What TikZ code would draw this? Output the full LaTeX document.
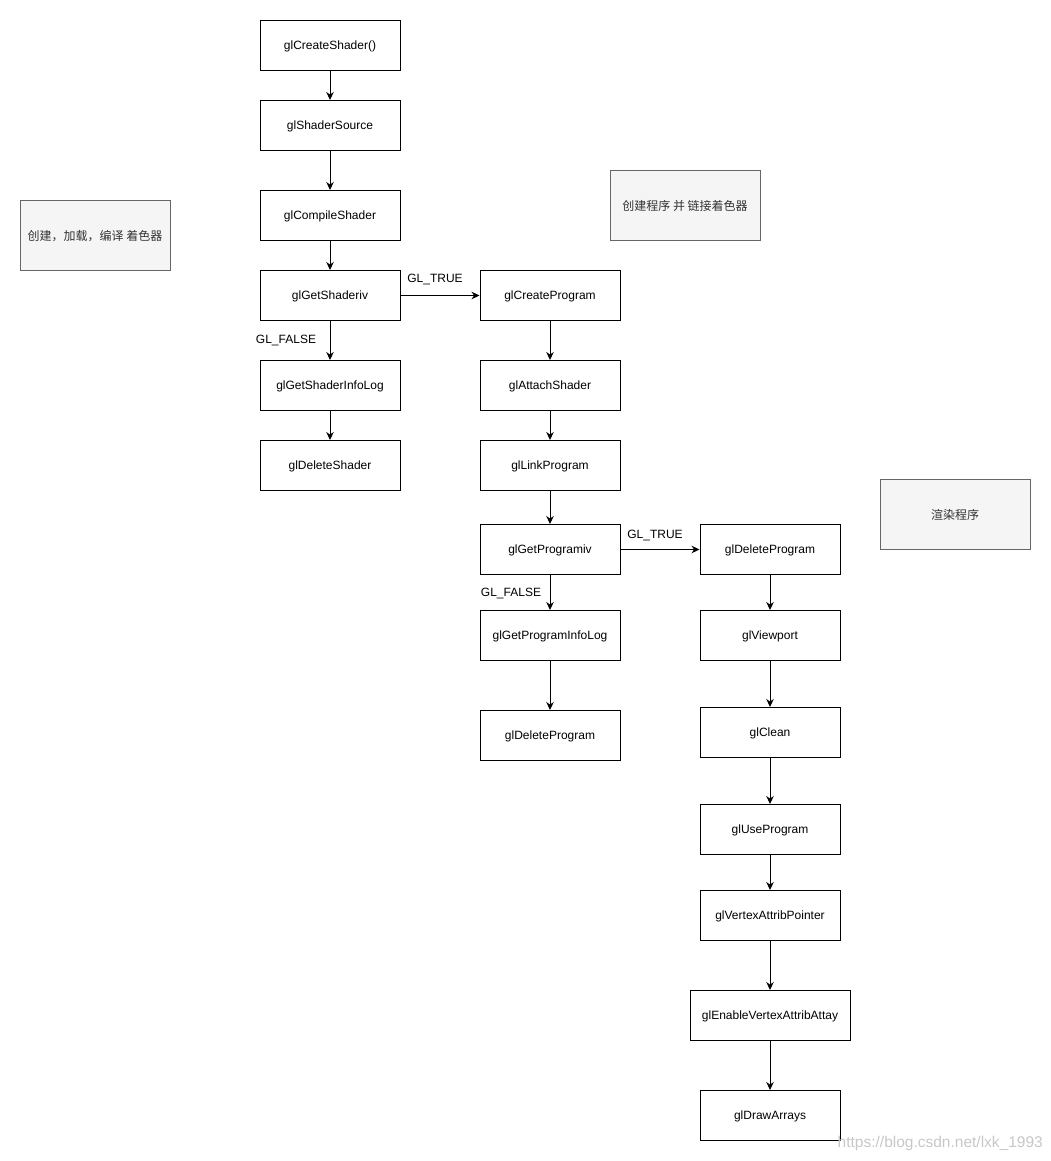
\documentclass[tikz,border=0pt]{standalone}
\usepackage{fontspec}
\setmainfont{Liberation Sans}
\newfontfamily\cjk{Noto Sans CJK SC}
\usetikzlibrary{arrows.meta}
\definecolor{notefill}{HTML}{F5F5F5}
\definecolor{noteline}{HTML}{666666}
\definecolor{notetext}{HTML}{333333}
\begin{document}
\begin{tikzpicture}[x=1pt,y=-1pt,
  box/.style={draw=black,line width=1pt,fill=white,minimum width=140pt,minimum height=50pt,inner sep=0pt,text depth=0pt,font=\fontsize{12}{14}\selectfont},
  widebox/.style={box,minimum width=160pt},
  note/.style={draw=noteline,line width=1pt,fill=notefill,minimum width=150pt,minimum height=70pt,inner sep=0pt,text depth=0pt,text=notetext,font=\cjk\fontsize{12}{14}\selectfont},
  arr/.style={line width=1pt,-{Stealth[length=8pt,width=7.5pt]}},
  lbl/.style={font=\fontsize{12}{14}\selectfont,inner sep=0pt}]
\useasboundingbox (0,0) rectangle (1051,1161);
% column 1
\node[box] (a1) at (330,45.5) {glCreateShader()};
\node[box] (a2) at (330,125.5) {glShaderSource};
\node[box] (a3) at (330,215.5) {glCompileShader};
\node[box] (a4) at (330,295.5) {glGetShaderiv};
\node[box] (a5) at (330,385.5) {glGetShaderInfoLog};
\node[box] (a6) at (330,465.5) {glDeleteShader};
% column 2
\node[box] (b1) at (550,295.5) {glCreateProgram};
\node[box] (b2) at (550,385.5) {glAttachShader};
\node[box] (b3) at (550,465.5) {glLinkProgram};
\node[box] (b4) at (550,549.5) {glGetProgramiv};
\node[box] (b5) at (550,635.5) {glGetProgramInfoLog};
\node[box] (b6) at (550,735.5) {glDeleteProgram};
% column 3
\node[box] (c1) at (770,549.5) {glDeleteProgram};
\node[box] (c2) at (770,635.5) {glViewport};
\node[box] (c3) at (770,732.5) {glClean};
\node[box] (c4) at (770,829.5) {glUseProgram};
\node[box] (c5) at (770,915.5) {glVertexAttribPointer};
\node[widebox] (c6) at (770,1015.5) {glEnableVertexAttribAttay};
\node[box] (c7) at (770,1115.5) {glDrawArrays};
% notes
\node[note] (n1) at (95,235.5) {创建，加载，编译 着色器};
\node[note] (n2) at (685,205.5) {创建程序 并 链接着色器};
\node[note] (n3) at (955,514.5) {渲染程序};
% connectors
\draw[arr] (a1) -- (a2);
\draw[arr] (a2) -- (a3);
\draw[arr] (a3) -- (a4);
\draw[arr] (a4) -- (a5);
\draw[arr] (a5) -- (a6);
\draw[arr] (a4) -- (b1);
\draw[arr] (b1) -- (b2);
\draw[arr] (b2) -- (b3);
\draw[arr] (b3) -- (b4);
\draw[arr] (b4) -- (b5);
\draw[arr] (b5) -- (b6);
\draw[arr] (b4) -- (c1);
\draw[arr] (c1) -- (c2);
\draw[arr] (c2) -- (c3);
\draw[arr] (c3) -- (c4);
\draw[arr] (c4) -- (c5);
\draw[arr] (c5) -- (c6);
\draw[arr] (c6) -- (c7);
% labels
\node[lbl] (l1) at (435,280) {GL\_TRUE};
\node[lbl] (l2) at (286,341) {GL\_FALSE};
\node[lbl] (l3) at (655,535) {GL\_TRUE};
\node[lbl] (l4) at (511,593) {GL\_FALSE};
% watermark
\node[anchor=south east,inner sep=0pt,text=black!22,font=\fontsize{15.5}{17}\selectfont] (wm) at (1043,1151) {https://blog.csdn.net/lxk\_1993};
\end{tikzpicture}
\end{document}
